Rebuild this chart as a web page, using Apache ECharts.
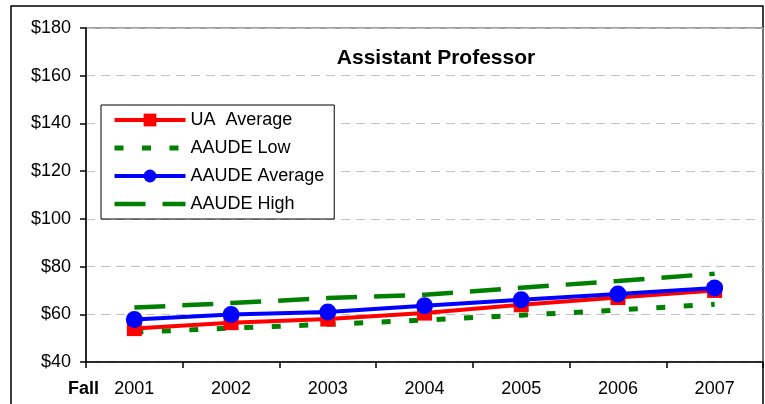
<!DOCTYPE html>
<html>
<head>
<meta charset="utf-8">
<script src="https://cdn.jsdelivr.net/npm/echarts@6/dist/echarts.min.js"></script>
<style>
html,body{margin:0;padding:0;background:#fff;}
#chart{width:765px;height:404px;}
</style>
</head>
<body>
<div id="chart"></div>
<script>
var categories = ['2001', '2002', '2003', '2004', '2005', '2006', '2007'];
var uaAverage = [54, 56.5, 58, 60.5, 64, 67, 70];
var aaudeLow = [52.5, 54.2, 55.8, 57.6, 59.6, 61.8, 64.2];
var aaudeAverage = [57.8, 59.9, 61, 63.6, 66.1, 68.5, 71];
var aaudeHigh = [62.8, 64.7, 66.8, 68.2, 71.1, 74, 77];
var yMin = 40, yMax = 180, yStep = 20;

var font = '"Liberation Sans", Arial, sans-serif';
var chart = echarts.init(document.getElementById('chart'), null, {renderer: 'canvas'});
chart.setOption({
  animation: false,
  backgroundColor: '#fff',
  title: {
    text: 'Assistant Professor',
    left: 431, top: 43, textAlign: 'center',
    textStyle: {fontFamily: font, fontSize: 21, fontWeight: 'bold', color: '#000'}
  },
  grid: {left: 86, top: 28, right: 2, bottom: 42, show: true, borderColor: '#808080', borderWidth: 1.5, backgroundColor: 'transparent'},
  legend: {
    orient: 'vertical', left: 101, top: 105,
    itemWidth: 71, itemHeight: 16, itemGap: 10,
    padding: [6, 10, 6, 11],
    borderColor: '#000', borderWidth: 1, backgroundColor: '#fff',
    textStyle: {fontFamily: font, fontSize: 18, color: '#000'},
    lineStyle: {width: 'inherit'},
    data: [
      {name: 'UA  Average'},
      {name: 'AAUDE Low', itemStyle: {opacity: 0}},
      {name: 'AAUDE Average'},
      {name: 'AAUDE High', itemStyle: {opacity: 0}}
    ]
  },
  xAxis: {
    type: 'category', data: categories, boundaryGap: true,
    axisLine: {lineStyle: {color: '#000', width: 1.5}},
    axisTick: {show: true, length: 6, lineStyle: {color: '#000', width: 1.5}},
    axisLabel: {fontFamily: font, fontSize: 18, color: '#000', margin: 18},
    splitLine: {show: false}
  },
  yAxis: {
    type: 'value', min: yMin, max: yMax, interval: yStep,
    axisLine: {show: true, lineStyle: {color: '#000', width: 1.5}},
    axisTick: {show: true, length: 6, lineStyle: {color: '#000', width: 1.5}},
    axisLabel: {fontFamily: font, fontSize: 18, color: '#000', margin: 15, formatter: function (v) { return '$' + v; }},
    splitLine: {show: true, lineStyle: {color: '#c0c0c0', width: 1, type: [9, 6]}}
  },
  graphic: [
    {type: 'rect', shape: {x: 11, y: 6, width: 752, height: 420}, style: {fill: 'none', stroke: '#000', lineWidth: 1.5}, z: -10, silent: true},
    {type: 'text', left: 68, top: 380, style: {text: 'Fall', fontFamily: font, fontSize: 18, fontWeight: 'bold', fill: '#000'}}
  ],
  series: [
    {
      name: 'UA  Average', type: 'line', data: uaAverage,
      symbol: 'rect', symbolSize: 15, itemStyle: {color: '#ff0000'},
      lineStyle: {color: '#ff0000', width: 4}, z: 3
    },
    {
      name: 'AAUDE Low', type: 'line', data: aaudeLow,
      symbol: 'none', itemStyle: {color: '#008000'},
      lineStyle: {color: '#008000', width: 5, type: [9, 18.5], cap: 'butt'}, z: 2
    },
    {
      name: 'AAUDE Average', type: 'line', data: aaudeAverage,
      symbol: 'circle', symbolSize: 17, itemStyle: {color: '#0000ff'},
      lineStyle: {color: '#0000ff', width: 4}, z: 4
    },
    {
      name: 'AAUDE High', type: 'line', data: aaudeHigh,
      symbol: 'none', itemStyle: {color: '#008000'},
      lineStyle: {color: '#008000', width: 4.5, type: [31, 17], cap: 'butt'}, z: 2
    }
  ]
});
</script>
</body>
</html>
